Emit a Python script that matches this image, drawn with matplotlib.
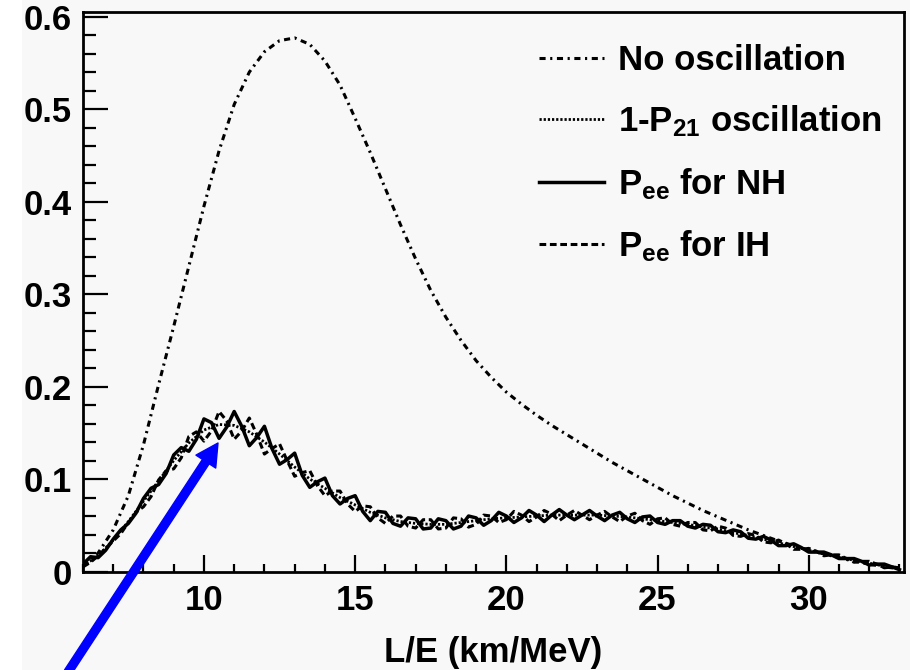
import numpy as np
import matplotlib
matplotlib.use("Agg")
import matplotlib.pyplot as plt
from matplotlib.patches import FancyArrowPatch, Rectangle
from matplotlib.ticker import MultipleLocator

# ------------------------------------------------------------
# Datos
# ------------------------------------------------------------
# malla fina (curvas con oscilacion rapida)
le_fina = [6.00, 6.25, 6.50, 6.75, 7.00, 7.25, 7.50, 7.75, 8.00, 8.25, 8.50, 8.75,
           9.00, 9.25, 9.50, 9.75, 10.00, 10.25, 10.50, 10.75, 11.00, 11.25, 11.50, 11.75,
           12.00, 12.25, 12.50, 12.75, 13.00, 13.25, 13.50, 13.75, 14.00, 14.25, 14.50, 14.75,
           15.00, 15.25, 15.50, 15.75, 16.00, 16.25, 16.50, 16.75, 17.00, 17.25, 17.50, 17.75,
           18.00, 18.25, 18.50, 18.75, 19.00, 19.25, 19.50, 19.75, 20.00, 20.25, 20.50, 20.75,
           21.00, 21.25, 21.50, 21.75, 22.00, 22.25, 22.50, 22.75, 23.00, 23.25, 23.50, 23.75,
           24.00, 24.25, 24.50, 24.75, 25.00, 25.25, 25.50, 25.75, 26.00, 26.25, 26.50, 26.75,
           27.00, 27.25, 27.50, 27.75, 28.00, 28.25, 28.50, 28.75, 29.00, 29.25, 29.50, 29.75,
           30.00, 30.25, 30.50, 30.75, 31.00, 31.25, 31.50, 31.75, 32.00, 32.25, 32.50, 32.75,
           33.00]

pee_nh = [0.008, 0.016, 0.015, 0.023, 0.035, 0.045, 0.052, 0.063, 0.079, 0.090, 0.094, 0.106,
          0.126, 0.134, 0.130, 0.143, 0.165, 0.161, 0.144, 0.156, 0.173, 0.157, 0.136, 0.145,
          0.157, 0.133, 0.116, 0.121, 0.128, 0.104, 0.091, 0.097, 0.101, 0.082, 0.073, 0.079,
          0.082, 0.065, 0.055, 0.065, 0.064, 0.052, 0.049, 0.058, 0.057, 0.046, 0.047, 0.057,
          0.055, 0.046, 0.049, 0.060, 0.058, 0.050, 0.055, 0.064, 0.060, 0.053, 0.058, 0.066,
          0.061, 0.054, 0.061, 0.067, 0.061, 0.056, 0.061, 0.066, 0.060, 0.055, 0.061, 0.064,
          0.057, 0.053, 0.059, 0.060, 0.053, 0.051, 0.055, 0.055, 0.049, 0.047, 0.051, 0.050,
          0.043, 0.042, 0.045, 0.043, 0.036, 0.035, 0.038, 0.034, 0.028, 0.028, 0.030, 0.026,
          0.021, 0.021, 0.021, 0.018, 0.014, 0.014, 0.014, 0.011, 0.007, 0.008, 0.008, 0.005,
          0.002]

pee_ih = [0.005, 0.010, 0.017, 0.025, 0.033, 0.041, 0.053, 0.064, 0.070, 0.081, 0.099, 0.109,
          0.111, 0.123, 0.146, 0.151, 0.141, 0.152, 0.173, 0.163, 0.143, 0.152, 0.166, 0.148,
          0.127, 0.133, 0.138, 0.120, 0.103, 0.107, 0.109, 0.093, 0.082, 0.087, 0.087, 0.073,
          0.065, 0.071, 0.070, 0.058, 0.052, 0.060, 0.060, 0.049, 0.047, 0.056, 0.056, 0.046,
          0.047, 0.058, 0.057, 0.048, 0.051, 0.061, 0.060, 0.053, 0.056, 0.065, 0.061, 0.054,
          0.059, 0.066, 0.062, 0.055, 0.061, 0.066, 0.061, 0.056, 0.061, 0.065, 0.059, 0.054,
          0.060, 0.063, 0.055, 0.051, 0.057, 0.058, 0.051, 0.049, 0.053, 0.053, 0.045, 0.044,
          0.049, 0.047, 0.039, 0.038, 0.041, 0.039, 0.032, 0.031, 0.034, 0.030, 0.024, 0.024,
          0.025, 0.022, 0.017, 0.018, 0.018, 0.014, 0.010, 0.011, 0.011, 0.008, 0.004, 0.005,
          0.004]

# malla gruesa (curvas suaves)
le_gruesa = [6.0, 6.5, 7.0, 7.5, 8.0, 8.5, 9.0, 9.5, 10.0, 10.5,
             11.0, 11.5, 12.0, 12.5, 13.0, 13.5, 14.0, 14.5, 15.0, 15.5,
             16.0, 16.5, 17.0, 17.5, 18.0, 18.5, 19.0, 19.5, 20.0, 20.5,
             21.0, 21.5, 22.0, 22.5, 23.0, 23.5, 24.0, 24.5, 25.0, 25.5,
             26.0, 26.5, 27.0, 27.5, 28.0, 28.5, 29.0, 29.5, 30.0, 30.5,
             31.0, 31.5, 32.0, 32.5, 33.0]

sin_oscilacion = [0.006, 0.020, 0.045, 0.082, 0.137, 0.202, 0.265, 0.330, 0.395, 0.455,
                  0.505, 0.540, 0.562, 0.574, 0.577, 0.570, 0.552, 0.526, 0.490, 0.453,
                  0.414, 0.375, 0.338, 0.304, 0.275, 0.250, 0.228, 0.210, 0.194, 0.181,
                  0.169, 0.158, 0.148, 0.138, 0.128, 0.118, 0.109, 0.100, 0.091, 0.082,
                  0.074, 0.066, 0.059, 0.052, 0.045, 0.039, 0.033, 0.028, 0.023, 0.019,
                  0.015, 0.011, 0.008, 0.005, 0.003]

uno_menos_p21 = [0.006, 0.017, 0.034, 0.054, 0.076, 0.098, 0.120, 0.139, 0.153, 0.159,
                 0.158, 0.151, 0.140, 0.127, 0.113, 0.100, 0.090, 0.080, 0.072, 0.064,
                 0.058, 0.054, 0.052, 0.051, 0.051, 0.053, 0.055, 0.057, 0.058, 0.059,
                 0.060, 0.061, 0.061, 0.061, 0.061, 0.060, 0.059, 0.057, 0.055, 0.053,
                 0.051, 0.048, 0.046, 0.042, 0.039, 0.035, 0.031, 0.027, 0.023, 0.019,
                 0.016, 0.012, 0.009, 0.006, 0.004]

etiquetas = ["No oscillation", "1-P$_{21}$ oscillation", "P$_{ee}$ for NH", "P$_{ee}$ for IH"]
y_ticks = [0.0, 0.1, 0.2, 0.3, 0.4, 0.5, 0.6]
y_tick_labels = ["0", "0.1", "0.2", "0.3", "0.4", "0.5", "0.6"]
x_ticks = [10, 15, 20, 25, 30]

# ------------------------------------------------------------
# Estilo
# ------------------------------------------------------------
FONDO = "#f8f8f8"
plt.rcParams["font.family"] = ["Liberation Sans", "DejaVu Sans"]
plt.rcParams["font.weight"] = "bold"
plt.rcParams["mathtext.fontset"] = "custom"
plt.rcParams["mathtext.rm"] = "Liberation Sans:bold"
plt.rcParams["mathtext.it"] = "Liberation Sans:bold"
plt.rcParams["mathtext.bf"] = "Liberation Sans:bold"
plt.rcParams["mathtext.default"] = "rm"

fig = plt.figure(figsize=(9.1, 6.7), dpi=100)
fig.patch.set_facecolor("white")
fig.add_artist(Rectangle((22 / 910, 0), 1, 1, transform=fig.transFigure,
                         facecolor=FONDO, edgecolor="none", zorder=-10))

ax = fig.add_axes([0.0912, 0.147, 0.9022, 0.8351])
ax.set_facecolor(FONDO)

ax.plot(le_gruesa, sin_oscilacion, color="black", lw=2.2,
        linestyle=(0, (2.0, 1.5, 0.7, 1.5)), label=etiquetas[0])
ax.plot(le_gruesa, uno_menos_p21, color="black", lw=2.0,
        linestyle=(0, (0.8, 0.7)), label=etiquetas[1])
ax.plot(le_fina, pee_nh, color="black", lw=2.5, linestyle="-", label=etiquetas[2])
ax.plot(le_fina, pee_ih, color="black", lw=2.2,
        linestyle=(0, (2.2, 1.2)), label=etiquetas[3])

ax.set_xlim(6, 33.15)
ax.set_ylim(0, 0.605)

ax.set_xticks(x_ticks)
ax.xaxis.set_minor_locator(MultipleLocator(1))
ax.set_yticks(y_ticks)
ax.set_yticklabels(y_tick_labels)
ax.yaxis.set_minor_locator(MultipleLocator(0.02))

ax.tick_params(axis="both", which="both", direction="in", width=1.6, labelsize=25)
ax.tick_params(axis="y", which="major", length=18, pad=8)
ax.tick_params(axis="y", which="minor", length=9)
ax.tick_params(axis="x", which="major", length=12, pad=9)
ax.tick_params(axis="x", which="minor", length=6)
for sp in ax.spines.values():
    sp.set_linewidth(2.0)

ax.set_xlabel("L/E (km/MeV)", fontsize=25, fontweight="bold", labelpad=14)

ax.legend(loc="upper left", bbox_to_anchor=(0.556, 0.943), frameon=False,
          fontsize=25, handlelength=1.86, handletextpad=0.40, labelspacing=0.77,
          borderpad=0, borderaxespad=0)

# flecha azul
flecha = FancyArrowPatch((68 / 910, -2 / 670), (218 / 910, 227 / 670),
                         transform=fig.transFigure,
                         arrowstyle="simple,head_length=16,head_width=17,tail_width=5.8",
                         mutation_scale=1, color="#0000ff", shrinkA=0, shrinkB=0,
                         zorder=20)
fig.add_artist(flecha)

fig.savefig("out.png", dpi=100, facecolor=fig.get_facecolor())
